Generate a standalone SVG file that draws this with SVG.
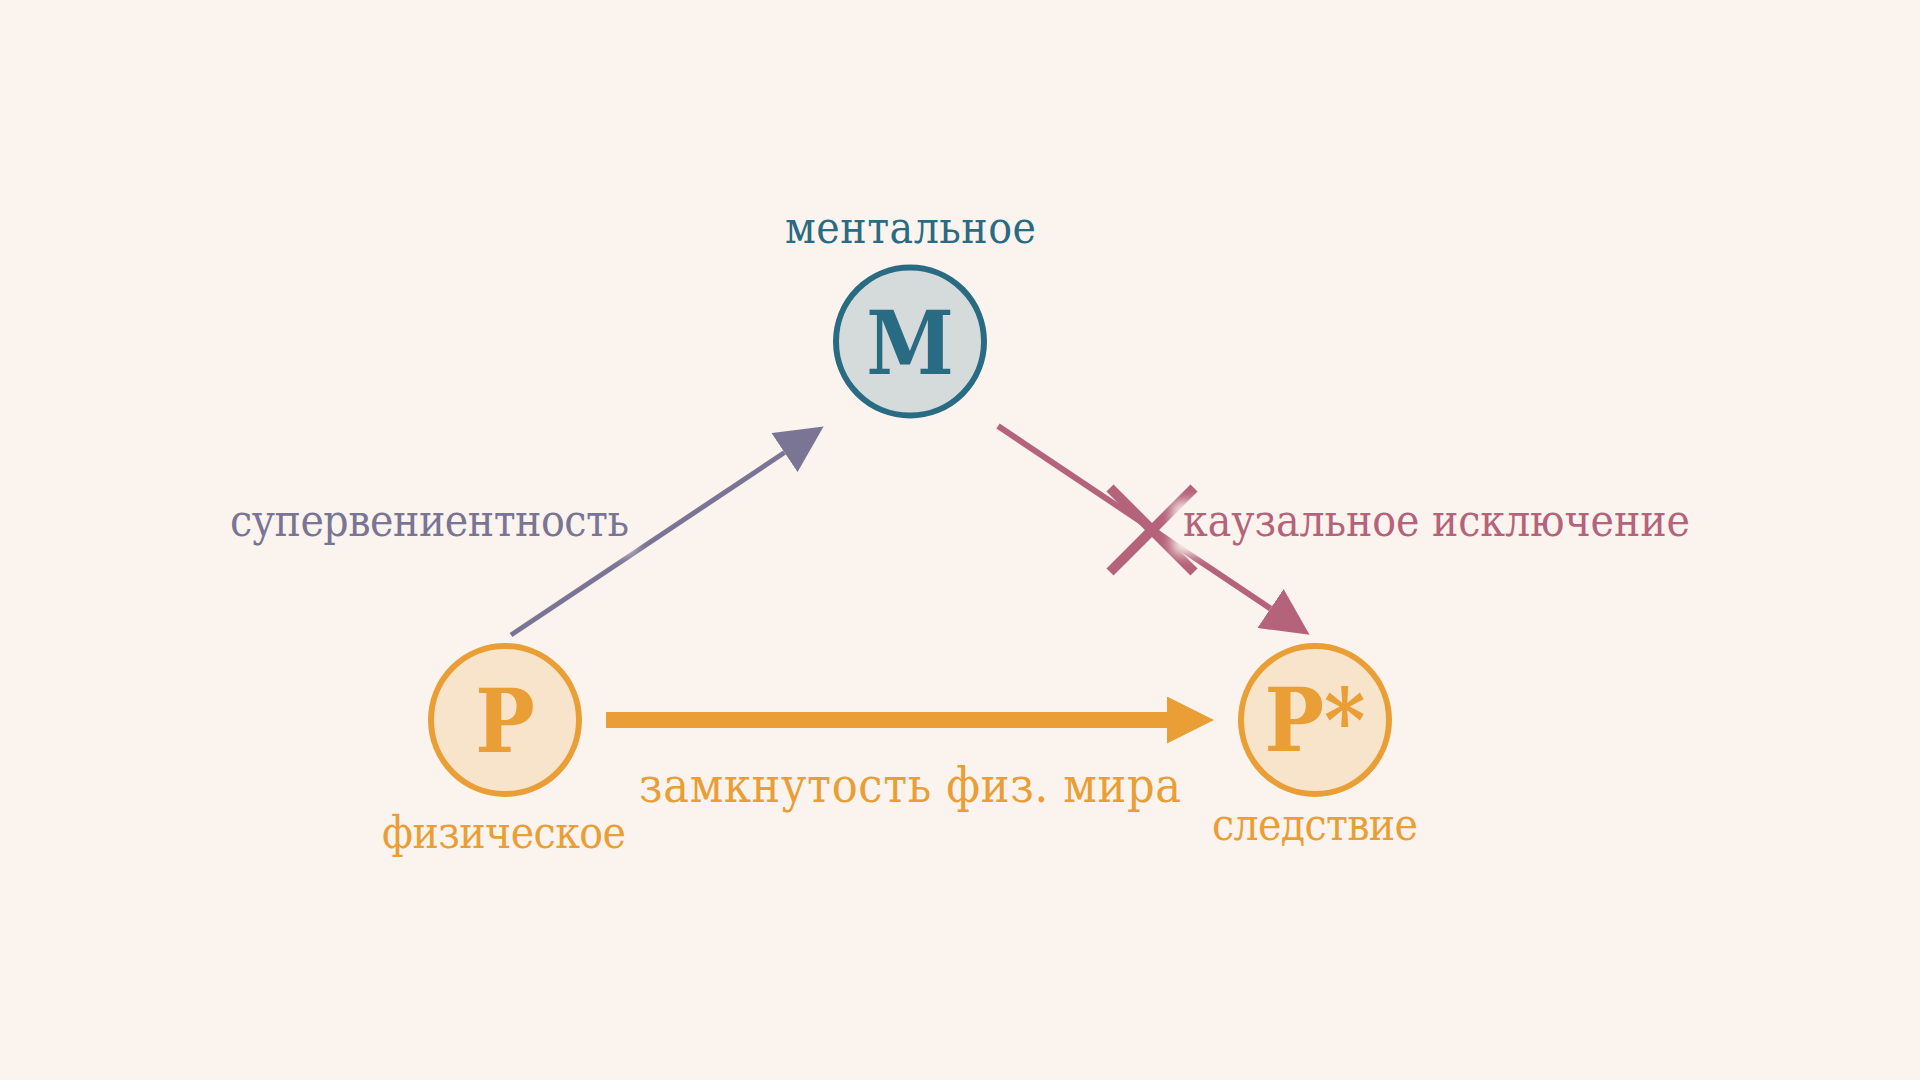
<svg xmlns="http://www.w3.org/2000/svg" width="1920" height="1080" viewBox="0 0 1920 1080">
  <defs>
    <style>
      .lbl { font-family: "DejaVu Serif Condensed", "DejaVu Serif", "Liberation Serif", serif; font-stretch: condensed; font-size: 44px; }
      .lbl-lg { font-family: "DejaVu Serif Condensed", "DejaVu Serif", "Liberation Serif", serif; font-stretch: condensed; font-size: 48px; }
      .big { font-family: "DejaVu Serif Condensed", "DejaVu Serif", "Liberation Serif", serif; font-stretch: condensed; font-size: 88px; font-weight: bold; text-anchor: middle; }
      .halo { fill: #FBF4EE; filter: url(#blur); }
      .node-m { fill: #D5DBDB; stroke: #2A6B84; stroke-width: 6; }
      .node-p { fill: #F8E4CB; stroke: #EA9E36; stroke-width: 6; }
    </style>
    <filter id="blur" x="-10%" y="-60%" width="120%" height="220%">
      <feGaussianBlur stdDeviation="6"/>
    </filter>
    <marker id="ah-purple" markerUnits="userSpaceOnUse" viewBox="0 0 47 47" markerWidth="47" markerHeight="47" refX="0" refY="23.5" orient="auto">
      <path d="M0,0 L47,23.5 L0,47 Z" fill="#7A7594"/>
    </marker>
    <marker id="ah-red" markerUnits="userSpaceOnUse" viewBox="0 0 47 47" markerWidth="47" markerHeight="47" refX="0" refY="23.5" orient="auto">
      <path d="M0,0 L47,23.5 L0,47 Z" fill="#B5637A"/>
    </marker>
    <marker id="ah-orange" markerUnits="userSpaceOnUse" viewBox="0 0 47 47" markerWidth="47" markerHeight="47" refX="0" refY="23.5" orient="auto">
      <path d="M0,0 L47,23.5 L0,47 Z" fill="#EA9E36"/>
    </marker>
  </defs>
  <rect width="1920" height="1080" fill="#FBF4EE"/>

  <g id="connectors">
    <line id="supervenience" x1="511" y1="635" x2="784.5" y2="452.5" stroke="#7A7594" stroke-width="5" marker-end="url(#ah-purple)"/>
    <line id="exclusion" x1="998" y1="426" x2="1270.5" y2="608.5" stroke="#B5637A" stroke-width="6" marker-end="url(#ah-red)"/>
    <g id="exclusion-cross" stroke="#B5637A" stroke-width="10">
      <line x1="1110" y1="488" x2="1194" y2="572"/>
      <line x1="1194" y1="488" x2="1110" y2="572"/>
    </g>
    <line id="closure" x1="606" y1="720" x2="1167" y2="720" stroke="#EA9E36" stroke-width="16" marker-end="url(#ah-orange)"/>
  </g>

  <g id="edge-labels">
    <rect class="halo" x="226" y="502" width="408" height="51"/>
    <text class="lbl" x="629" y="536" text-anchor="end" textLength="399" lengthAdjust="spacing" fill="#7A7594">супервениентность</text>
    <rect class="halo" x="1173" y="502" width="522" height="52"/>
    <text class="lbl" x="1183" y="536" textLength="507" lengthAdjust="spacing" fill="#B5637A">каузальное исключение</text>
    <text class="lbl-lg" x="639" y="802" textLength="542" lengthAdjust="spacing" fill="#EA9E36">замкнутость физ. мира</text>
  </g>

  <g id="node-M">
    <circle class="node-m" cx="910" cy="341.5" r="74"/>
    <text class="big" x="910" y="374" fill="#2A6B84">M</text>
    <text class="lbl" x="785" y="243" textLength="251" lengthAdjust="spacing" fill="#2A6B84">ментальное</text>
  </g>

  <g id="node-P">
    <circle class="node-p" cx="505" cy="720" r="74"/>
    <text class="big" x="505" y="752" fill="#EA9E36">P</text>
    <text class="lbl" x="382" y="848" textLength="244" lengthAdjust="spacing" fill="#EA9E36">физическое</text>
  </g>

  <g id="node-Pstar">
    <circle class="node-p" cx="1315" cy="720" r="74"/>
    <text class="big" x="1315" y="751" fill="#EA9E36">P*</text>
    <text class="lbl" x="1212" y="840" textLength="206" lengthAdjust="spacing" fill="#EA9E36">следствие</text>
  </g>
</svg>
